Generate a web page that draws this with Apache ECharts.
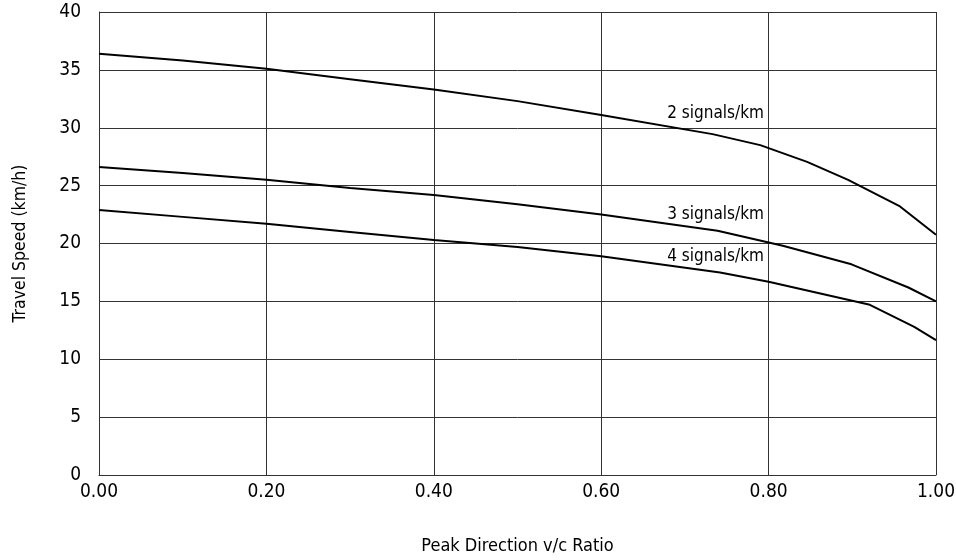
<!DOCTYPE html>
<html>
<head>
<meta charset="utf-8">
<script src="https://cdn.jsdelivr.net/npm/echarts@6/dist/echarts.min.js"></script>
<style>
html,body{margin:0;padding:0;background:#fff;}
#c{width:956px;height:560px;}
</style>
</head>
<body>
<div id="c"></div>
<script>
// Data
var seriesNames = ['2 signals/km', '3 signals/km', '4 signals/km'];
var vc2 = [0, 0.1, 0.2, 0.3, 0.4, 0.5, 0.6, 0.733, 0.79, 0.846, 0.895, 0.957, 1.0];
var speed2 = [36.4, 35.8, 35.1, 34.2, 33.3, 32.3, 31.1, 29.45, 28.5, 27.05, 25.5, 23.2, 20.75];
var vc3 = [0, 0.1, 0.2, 0.3, 0.4, 0.5, 0.6, 0.739, 0.817, 0.899, 0.967, 1.0];
var speed3 = [26.6, 26.1, 25.5, 24.8, 24.2, 23.4, 22.5, 21.1, 19.8, 18.2, 16.2, 15.0];
var vc4 = [0, 0.1, 0.2, 0.3, 0.4, 0.5, 0.6, 0.742, 0.8, 0.921, 0.974, 1.0];
var speed4 = [22.9, 22.3, 21.7, 21.0, 20.3, 19.7, 18.9, 17.5, 16.7, 14.7, 12.8, 11.65];
// label anchor (v/c, speed) for each curve's text
var labelVc = [0.795, 0.795, 0.795];
var labelSpeed = [31.2, 22.5, 18.85];
var xTicks = [0, 0.2, 0.4, 0.6, 0.8, 1.0];
var yTicks = [0, 5, 10, 15, 20, 25, 30, 35, 40];

var FONT = '"Liberation Sans Narrow", "DejaVu Sans Condensed", "Liberation Sans", sans-serif';
var xs = [vc2, vc3, vc4];
var ys = [speed2, speed3, speed4];

function pairs(a, b) { return a.map(function (v, i) { return [v, b[i]]; }); }

var series = seriesNames.map(function (name, i) {
  return {
    name: name,
    type: 'line',
    data: pairs(xs[i], ys[i]),
    showSymbol: false,
    smooth: false,
    lineStyle: { color: '#000', width: 2 },
    itemStyle: { color: '#000' },
    z: 5,
    markPoint: {
      symbol: 'circle',
      symbolSize: 1,
      itemStyle: { color: 'rgba(0,0,0,0)' },
      data: [{ coord: [labelVc[i], labelSpeed[i]], value: name }],
      label: {
        show: true,
        position: 'left',
        distance: 0,
        formatter: name,
        color: '#000',
        fontFamily: FONT,
        fontSize: 17
      }
    }
  };
});

var chart = echarts.init(document.getElementById('c'), null, { renderer: 'canvas' });
chart.setOption({
  animation: false,
  backgroundColor: '#fff',
  grid: { left: 99, right: 20, top: 12, bottom: 85, containLabel: false, outerBoundsMode: 'none' },
  xAxis: {
    type: 'value',
    min: xTicks[0],
    max: xTicks[xTicks.length - 1],
    interval: 0.2,
    name: 'Peak Direction v/c Ratio',
    nameLocation: 'middle',
    nameGap: 62,
    nameTextStyle: { color: '#000', fontFamily: FONT, fontSize: 18 },
    axisLine: { show: true, lineStyle: { color: '#333', width: 1 } },
    axisTick: { show: false },
    splitLine: { show: true, lineStyle: { color: '#333', width: 1 } },
    axisLabel: {
      color: '#000', fontFamily: FONT, fontSize: 19, margin: 8,
      formatter: function (v) { return v.toFixed(2); }
    }
  },
  yAxis: {
    type: 'value',
    min: yTicks[0],
    max: yTicks[yTicks.length - 1],
    interval: 5,
    name: 'Travel Speed (km/h)',
    nameLocation: 'middle',
    nameGap: 70,
    nameRotate: 90,
    nameTextStyle: { color: '#000', fontFamily: FONT, fontSize: 17.5 },
    axisLine: { show: true, lineStyle: { color: '#333', width: 1 } },
    axisTick: { show: false },
    splitLine: { show: true, lineStyle: { color: '#333', width: 1 } },
    axisLabel: { color: '#000', fontFamily: FONT, fontSize: 19, margin: 18 }
  },
  series: series
});
</script>
</body>
</html>
